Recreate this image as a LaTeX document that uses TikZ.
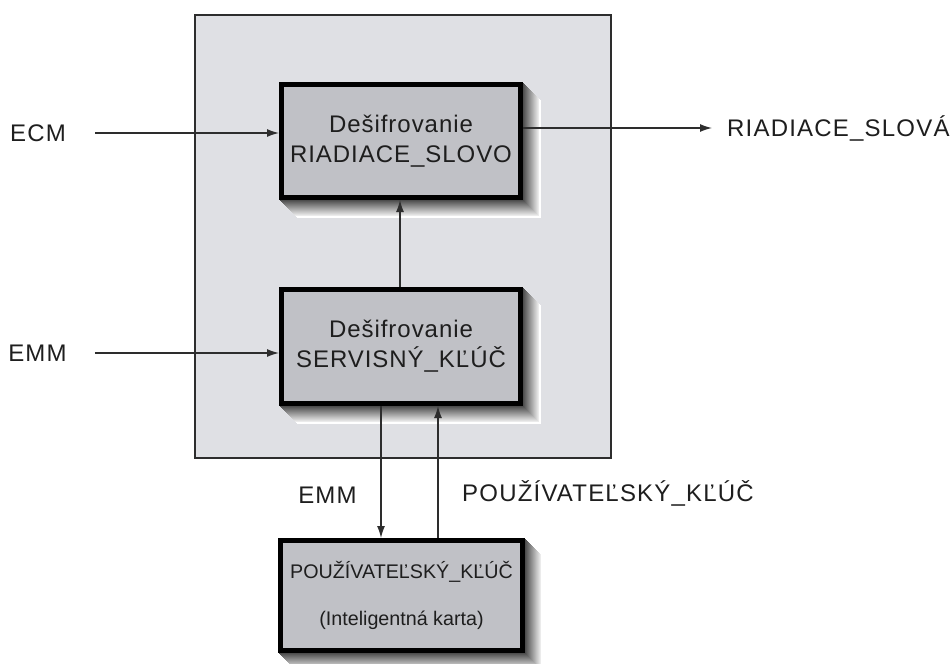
\documentclass[tikz,border=0pt]{standalone}
\usepackage{fontspec}
\setmainfont{Liberation Sans}
\usetikzlibrary{arrows.meta}
\definecolor{outerfill}{RGB}{223,224,228}
\definecolor{boxfill}{RGB}{192,193,198}
\definecolor{ink}{RGB}{30,30,30}
\definecolor{linec}{RGB}{45,45,45}
\newcommand{\shadowrect}[4]{%
  \foreach \i in {18,...,1}{%
    \pgfmathsetmacro\s{\i>16 ? 0 : 8+62*(16-\i)/15}%
    \fill[black!\s!white] (#1+\i,#2+\i) rectangle (#3+\i,#4+\i);}}
\begin{document}
\begin{tikzpicture}[x=1pt,y=-1pt,
  biglbl/.style={font=\fontsize{24}{28}\selectfont\addfontfeature{LetterSpace=5}, text=ink, inner sep=0pt, text height=17pt, text depth=0pt},
  blk/.style={draw=black, line width=5pt, fill=boxfill, text=ink, align=center, inner sep=0pt},
  blktxt/.style={font=\fontsize{24}{30}\selectfont\addfontfeature{LetterSpace=4}},
  frame/.style={draw=linec, line width=1.5pt, fill=outerfill, inner sep=0pt},
  arr/.style={draw=linec, line width=1.3pt, -{Latex[length=12pt,width=8pt]}}]
\useasboundingbox (0,0) rectangle (951,664);
\fill[white] (0,0) rectangle (951,664);
\node[frame, minimum width=416pt, minimum height=443pt] (outer) at (403,236.5) {};
% shadows
\shadowrect{279}{82}{523}{200}
\shadowrect{279}{287}{523}{406}
\shadowrect{278}{538}{525}{653}
% boxes
\node[blk, blktxt, minimum width=239pt, minimum height=113pt] (top) at (401,141) {Dešifrovanie\\RIADIACE\_SLOVO};
\node[blk, blktxt, minimum width=239pt, minimum height=114pt] (mid) at (401,346.5) {Dešifrovanie\\SERVISNÝ\_KĽÚČ};
\node[blk, font=\fontsize{19.7}{47}\selectfont, minimum width=242pt, minimum height=110pt] (bot) at (401.5,595.5) {POUŽÍVATEĽSKÝ\_KĽÚČ\\(Inteligentná karta)};
% labels
\node[biglbl] (ecm) at (38,133) {ECM};
\node[biglbl] (emm) at (37.5,353) {EMM};
\node[biglbl, anchor=west] (out) at (727,128) {RIADIACE\_SLOVÁ};
\node[biglbl] (emm2) at (327.5,495) {EMM};
\node[biglbl, anchor=west] (ukey) at (462,493) {POUŽÍVATEĽSKÝ\_KĽÚČ};
% connectors
\draw[arr] ([xshift=29pt]ecm.east) -- (ecm.east -| top.west);
\draw[arr] ([xshift=28pt]emm.east) -- (emm.east -| mid.west);
\coordinate (outend) at (712,128);
\draw[arr] (outend -| top.east) -- (outend);
\draw[arr] (mid.north -| 400,0) -- (top.south -| 400,0);
\draw[arr] (mid.south -| 381,0) -- (bot.north -| 381,0);
\draw[arr] (bot.north -| 438,0) -- (mid.south -| 438,0);
\end{tikzpicture}
\end{document}
